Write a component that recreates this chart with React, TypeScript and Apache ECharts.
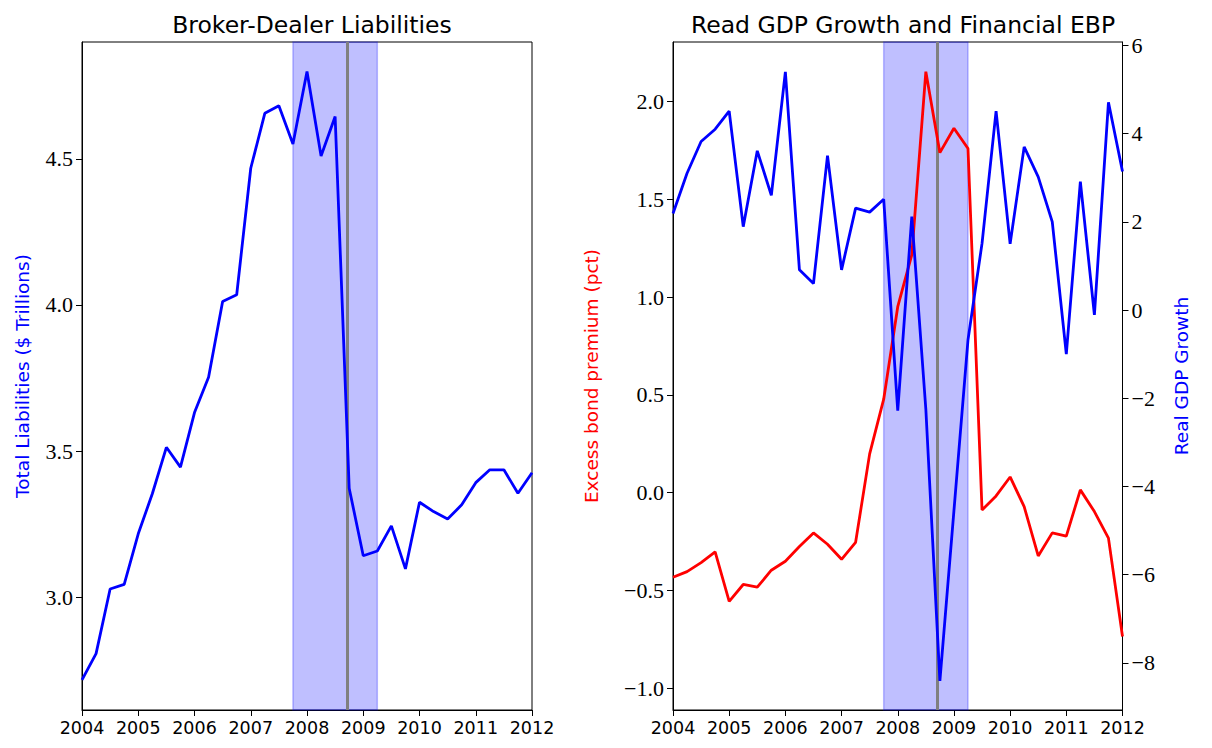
import React, { useEffect, useRef } from "react";
import * as echarts from "echarts";

// Quarterly observation dates, as decimal years
const quarters = [
  2004.0, 2004.25, 2004.5, 2004.75, 2005.0, 2005.25, 2005.5, 2005.75,
  2006.0, 2006.25, 2006.5, 2006.75, 2007.0, 2007.25, 2007.5, 2007.75,
  2008.0, 2008.25, 2008.5, 2008.75, 2009.0, 2009.25, 2009.5, 2009.75,
  2010.0, 2010.25, 2010.5, 2010.75, 2011.0, 2011.25, 2011.5, 2011.75,
  2012.0,
];

// Broker-dealer total liabilities, $ trillions
const liabilities = [
  2.717, 2.807, 3.028, 3.044, 3.217, 3.354, 3.513, 3.445,
  3.632, 3.753, 4.012, 4.035, 4.468, 4.656, 4.682, 4.551,
  4.799, 4.510, 4.645, 3.373, 3.142, 3.158, 3.244, 3.097,
  3.325, 3.293, 3.268, 3.316, 3.392, 3.436, 3.436, 3.356,
  3.426,
];

// Financial excess bond premium, percentage points
const ebp = [
  -0.433, -0.404, -0.358, -0.303, -0.556, -0.470, -0.484, -0.397,
  -0.351, -0.276, -0.206, -0.264, -0.341, -0.254, 0.198, 0.478,
  0.951, 1.216, 2.153, 1.739, 1.864, 1.760, -0.089, -0.017,
  0.080, -0.072, -0.324, -0.206, -0.223, 0.014, -0.097, -0.233,
  -0.736,
];

// Real GDP growth, annualized percent
const gdpGrowth = [
  2.19, 3.10, 3.82, 4.10, 4.51, 1.89, 3.61, 2.60,
  5.40, 0.91, 0.60, 3.50, 0.91, 2.31, 2.22, 2.51,
  -2.28, 2.12, -2.25, -8.41, -4.55, -0.68, 1.51, 4.51,
  1.50, 3.70, 3.02, 2.00, -1.00, 2.91, -0.11, 4.71,
  3.14,
];

// Recession window and Lehman bankruptcy date
const recession = [2007.75, 2009.25];
const lehmanDate = 2008.71;

const liabTicks = [3.0, 3.5, 4.0, 4.5];
const ebpTicks = [-1.0, -0.5, 0.0, 0.5, 1.0, 1.5, 2.0];
const gdpTicks = [-8, -6, -4, -2, 0, 2, 4, 6];

const SANS = "DejaVu Sans";
const SERIF = "Liberation Serif";

const minus = (s: string) => s.replace("-", "\u2212");

function pairs(ys: number[]) {
  return quarters.map((q, i) => [q, ys[i]]);
}

function xAxisFor(gridIndex: number) {
  return {
    type: "value",
    gridIndex,
    min: 2004,
    max: 2012,
    interval: 1,
    axisLine: { show: true, onZero: false, lineStyle: { color: "#000", width: 1 } },
    axisTick: { show: true, length: 6, lineStyle: { color: "#000", width: 1 } },
    axisLabel: {
      show: true,
      margin: 9,
      color: "#000",
      fontFamily: SANS,
      fontSize: 17.5,
      formatter: (v: number) => String(Math.round(v)),
    },
    splitLine: { show: false },
  };
}

function yAxisFor(
  gridIndex: number,
  position: "left" | "right",
  min: number,
  max: number,
  ticks: number[],
  fmt: (v: number) => string,
  name: string,
  nameColor: string,
  nameGap: number
) {
  return {
    type: "value",
    gridIndex,
    position,
    min,
    max,
    name,
    nameLocation: "middle",
    nameGap,
    nameTextStyle: { color: nameColor, fontFamily: SANS, fontSize: 18.5 },
    axisLine: { show: true, onZero: false, lineStyle: { color: "#000", width: 1 } },
    axisTick: {
      show: true,
      length: 6,
      customValues: ticks,
      lineStyle: { color: "#000", width: 1 },
    },
    axisLabel: {
      show: true,
      margin: 9,
      color: "#000",
      fontFamily: SERIF,
      fontSize: 22,
      customValues: ticks,
      formatter: (v: number) => minus(fmt(v)),
    },
    splitLine: { show: false },
  };
}

// Shaded recession band plus the vertical Lehman marker, kept beneath the data lines
function bandSeries(xAxisIndex: number, yAxisIndex: number) {
  return {
    type: "line",
    xAxisIndex,
    yAxisIndex,
    data: [],
    z: 1,
    silent: true,
    markArea: {
      silent: true,
      z: 1,
      itemStyle: {
        color: "rgba(0,0,255,0.25)",
        borderColor: "rgba(0,0,255,0.25)",
        borderWidth: 1.5,
      },
      data: [[{ xAxis: recession[0] }, { xAxis: recession[1] }]],
    },
    markLine: {
      silent: true,
      z: 2,
      symbol: ["none", "none"],
      label: { show: false },
      lineStyle: { color: "#808080", width: 3, type: "solid" },
      data: [{ xAxis: lehmanDate }],
    },
  };
}

function lineSeries(
  data: number[],
  color: string,
  xAxisIndex: number,
  yAxisIndex: number,
  z: number
) {
  return {
    type: "line",
    xAxisIndex,
    yAxisIndex,
    data: pairs(data),
    showSymbol: false,
    symbol: "none",
    z,
    lineStyle: { color, width: 2.8 },
    itemStyle: { color },
  };
}

export default function App() {
  const ref = useRef<HTMLDivElement>(null);

  useEffect(() => {
    if (!ref.current) return;
    const chart = echarts.init(ref.current, undefined, { renderer: "svg" });
    chart.setOption({
      animation: false,
      backgroundColor: "#fff",
      title: [
        {
          text: "Broker-Dealer Liabilities",
          left: 307,
          top: 8,
          textAlign: "center",
          textStyle: { fontFamily: SANS, fontSize: 23.5, fontWeight: "normal", color: "#000" },
        },
        {
          text: "Read GDP Growth and Financial EBP",
          left: 898,
          top: 8,
          textAlign: "center",
          textStyle: { fontFamily: SANS, fontSize: 23.5, fontWeight: "normal", color: "#000" },
        },
      ],
      grid: [
        { left: 82, top: 42, width: 450, height: 668, show: true, borderColor: "#000", borderWidth: 1, backgroundColor: "transparent" },
        { left: 673, top: 42, width: 449.5, height: 668, show: true, borderColor: "#000", borderWidth: 1, backgroundColor: "transparent" },
      ],
      xAxis: [xAxisFor(0), xAxisFor(1)],
      yAxis: [
        yAxisFor(0, "left", 2.614, 4.9, liabTicks, (v) => v.toFixed(1),
          "Total Liabilities ($ Trillions)", "#0000ff", 50),
        yAxisFor(1, "left", -1.112, 2.305, ebpTicks, (v) => v.toFixed(1),
          "Excess bond premium (pct)", "#ff0000", 72),
        yAxisFor(1, "right", -9.07, 6.077, gdpTicks, (v) => String(Math.round(v)),
          "Real GDP Growth", "#0000ff", 49),
      ],
      series: [
        bandSeries(0, 0),
        lineSeries(liabilities, "#0000ff", 0, 0, 3),
        bandSeries(1, 1),
        lineSeries(ebp, "#ff0000", 1, 1, 3),
        lineSeries(gdpGrowth, "#0000ff", 1, 2, 4),
      ],
    });
    return () => chart.dispose();
  }, []);

  return (
    <div
      ref={ref}
      style={{ position: "absolute", left: 0, top: 0, width: 1212, height: 748 }}
    />
  );
}
